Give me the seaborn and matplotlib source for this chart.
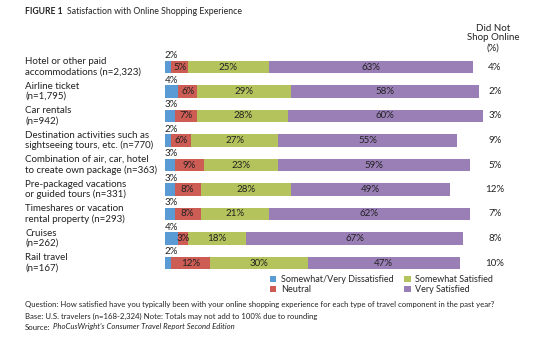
import matplotlib
matplotlib.use("Agg")
import matplotlib.pyplot as plt
import matplotlib.transforms as mtransforms
from matplotlib.patches import Patch
import numpy as np
import pandas as pd
import seaborn as sns

categories = [
    "Hotel or other paid\naccommodations (n=2,323)",
    "Airline ticket\n(n=1,795)",
    "Car rentals\n(n=942)",
    "Destination activities such as\nsightseeing tours, etc. (n=770)",
    "Combination of air, car, hotel\nto create own package (n=363)",
    "Pre-packaged vacations\nor guided tours (n=331)",
    "Timeshares or vacation\nrental property (n=293)",
    "Cruises\n(n=262)",
    "Rail travel\n(n=167)",
]
dissatisfied = [2, 4, 3, 2, 3, 3, 3, 4, 2]
neutral = [5, 6, 7, 6, 9, 8, 8, 3, 12]
somewhat_satisfied = [25, 29, 28, 27, 23, 28, 21, 18, 30]
very_satisfied = [63, 58, 60, 55, 59, 49, 62, 67, 47]
did_not_shop = [4, 2, 3, 9, 5, 12, 7, 8, 10]

series_names = ["Somewhat/Very Dissatisfied", "Neutral", "Somewhat Satisfied", "Very Satisfied"]
colors = ["#5b9bd5", "#cd5c55", "#b5c35c", "#9a7eb6"]

sns.set_theme(style="white")
plt.rcParams["font.family"] = ["Lato", "DejaVu Sans"]

W, H = 536, 339
fig = plt.figure(figsize=(W / 100, H / 100), dpi=100)
ax = fig.add_axes([165 / W, 1 - 275.25 / H, 324 / W, (275.25 - 54.75) / H])

df = pd.DataFrame({
    "cat": categories,
    "d": dissatisfied, "n": neutral, "s": somewhat_satisfied, "v": very_satisfied,
})
df["c1"] = df["d"]
df["c2"] = df["c1"] + df["n"]
df["c3"] = df["c2"] + df["s"]
df["c4"] = df["c3"] + df["v"]

for col, color in zip(["c4", "c3", "c2", "c1"], colors[::-1]):
    sns.barplot(data=df, x=col, y="cat", color=color, width=0.5, orient="h",
                ax=ax, saturation=1, linewidth=0)

ax.set_xlim(0, 100)
ax.set_ylim(8.5, -0.5)
ax.axis("off")

fs_bar = 7
for i in range(len(categories)):
    ax.text(0, i - 0.27, f"{dissatisfied[i]}%", ha="left", va="bottom", fontsize=fs_bar, color="#222222")
    ax.text(df["c1"][i] + neutral[i] / 2, i, f"{neutral[i]}%", ha="center", va="center", fontsize=fs_bar, color="#222222")
    ax.text(df["c2"][i] + somewhat_satisfied[i] / 2, i, f"{somewhat_satisfied[i]}%", ha="center", va="center", fontsize=fs_bar, color="#222222")
    ax.text(df["c3"][i] + very_satisfied[i] / 2, i, f"{very_satisfied[i]}%", ha="center", va="center", fontsize=fs_bar, color="#222222")

trans = mtransforms.blended_transform_factory(fig.transFigure, ax.transData)
for i, c in enumerate(categories):
    fig.text(25 / W, i, c, transform=trans, ha="left", va="center", fontsize=7,
             color="#222222", linespacing=1.15)
    fig.text(495 / W, i, f"{did_not_shop[i]}%", transform=trans, ha="center", va="center",
             fontsize=7, color="#222222")

fig.text(493 / W, 1 - 38 / H, "Did Not\nShop Online\n(%)", ha="center", va="center",
         fontsize=7, color="#222222", linespacing=1.1)

fig.text(25 / W, 1 - 11 / H, "FIGURE 1", ha="left", va="center", fontsize=6.2, fontweight="bold", color="#222222")
fig.text(67 / W, 1 - 11 / H, "Satisfaction with Online Shopping Experience", ha="left", va="center",
         fontsize=6.3, color="#222222")

handles = [Patch(facecolor=c, edgecolor="none", label=n) for c, n in zip(colors, series_names)]
fig.legend(handles=handles, ncol=2, loc="upper left", bbox_to_anchor=(270 / W, 1 - 275 / H),
           frameon=False, fontsize=6.5, handlelength=0.7, handleheight=0.7, handletextpad=0.5,
           columnspacing=1.2, labelspacing=0.1, borderpad=0, borderaxespad=0)

fs_note = 5.6
fig.text(25 / W, 1 - 304 / H,
         "Question: How satisfied have you typically been with your online shopping experience for each type of travel component in the past year?",
         ha="left", va="center", fontsize=fs_note, color="#222222")
fig.text(25 / W, 1 - 316 / H,
         "Base: U.S. travelers (n=168-2,324) Note: Totals may not add to 100% due to rounding",
         ha="left", va="center", fontsize=fs_note, color="#222222")
src = fig.text(25 / W, 1 - 327 / H, "Source:", ha="left", va="center", fontsize=fs_note, color="#222222")
fig.text(0, 0, "PhoCusWright's Consumer Travel Report Second Edition", ha="left", va="center",
         fontsize=fs_note, style="italic", color="#222222",
         transform=mtransforms.offset_copy(fig.transFigure, fig=fig, x=0, y=0))
fig.texts[-1].remove()
ann = fig.add_artist(matplotlib.text.Annotation(
    "PhoCusWright's Consumer Travel Report Second Edition", xy=(1, 0.5), xycoords=src,
    xytext=(2, 0), textcoords="offset points", ha="left", va="center",
    fontsize=fs_note, style="italic", color="#222222"))

fig.savefig("out.png", dpi=100)
